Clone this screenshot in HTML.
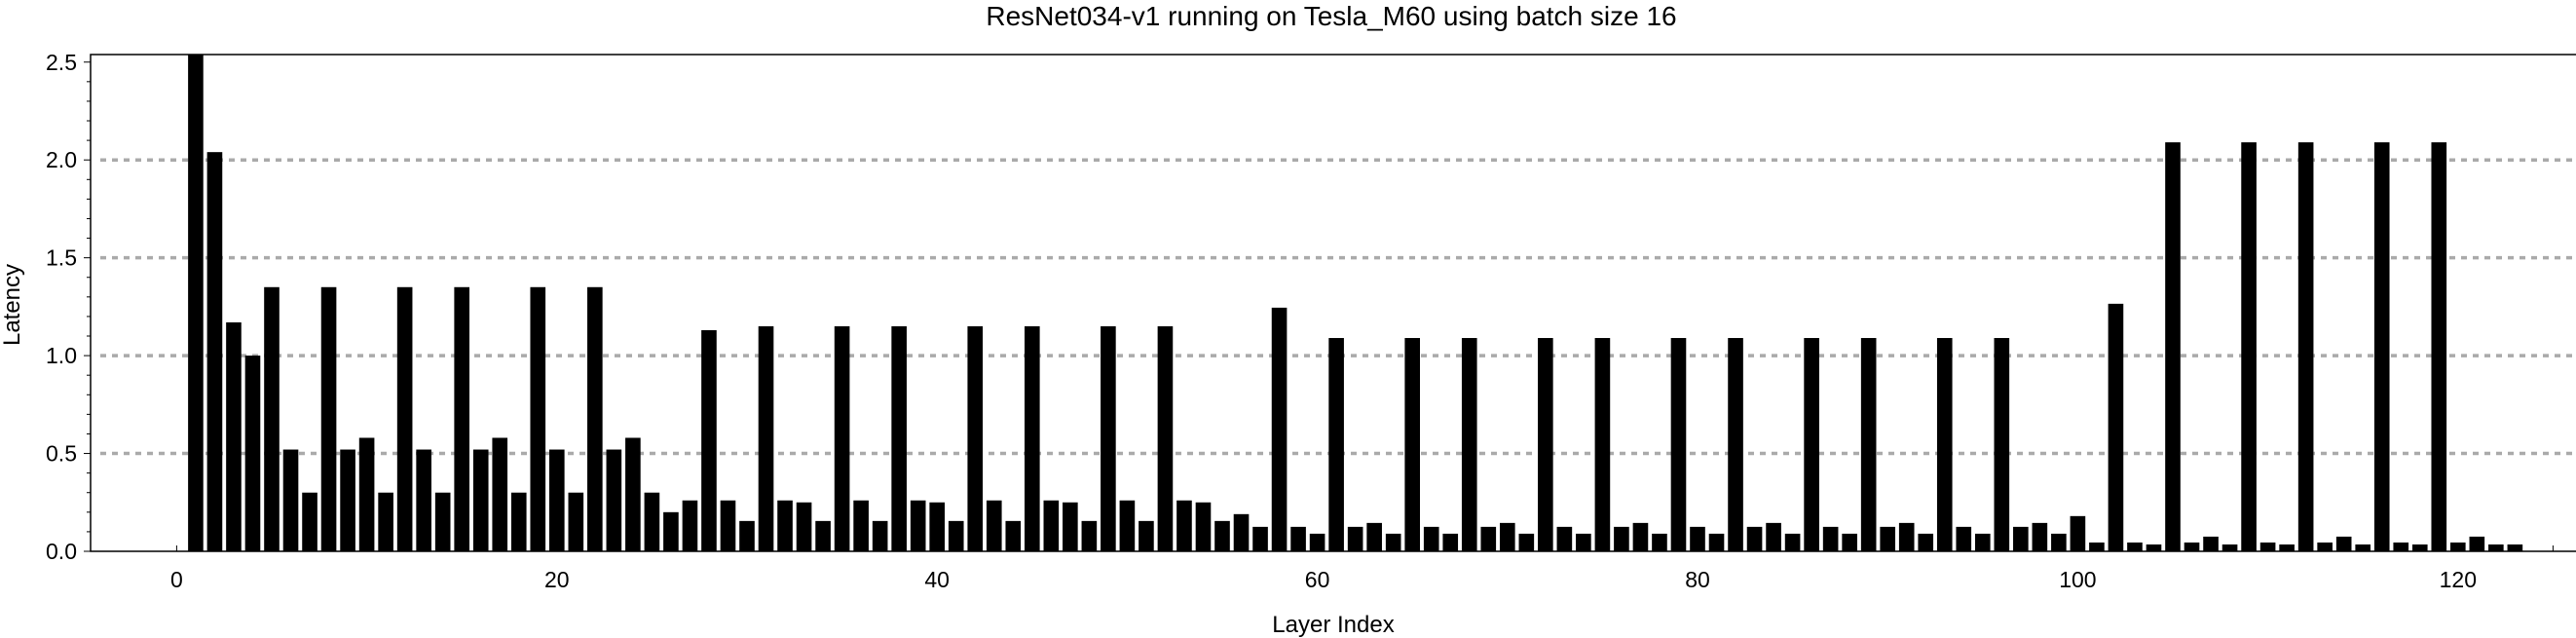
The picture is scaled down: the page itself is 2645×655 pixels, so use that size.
<!DOCTYPE html>
<html><head><meta charset="utf-8"><style>
body{margin:0;background:#fff}
svg{display:block}
text{font-family:"Liberation Sans",sans-serif;fill:#000}
</style></head><body>
<svg id="chart" width="2645" height="655" viewBox="0 0 2645 655" xmlns="http://www.w3.org/2000/svg">
<text x="1367" y="26" font-size="28" text-anchor="middle">ResNet034-v1 running on Tesla_M60 using batch size 16</text>
<text transform="translate(20,313) rotate(-90)" font-size="24" text-anchor="middle">Latency</text>
<text x="1369" y="649" font-size="24" text-anchor="middle">Layer Index</text>
<g id="grid"></g><g id="bars"></g><g id="axes"></g>
</svg>
<script>
const latency = [2.6,2.04,1.17,1.00,1.35,0.52,0.30,1.35,0.52,0.58,0.30,1.35,0.52,0.30,1.35,0.52,0.58,0.30,1.35,0.52,
0.30,1.35,0.52,0.58,0.30,0.20,0.26,1.13,0.26,0.155,1.15,0.26,0.25,0.155,1.15,0.26,0.155,1.15,0.26,0.25,
0.155,1.15,0.26,0.155,1.15,0.26,0.25,0.155,1.15,0.26,0.155,1.15,0.26,0.25,0.155,0.19,0.125,1.245,0.125,0.09,
1.09,0.125,0.145,0.09,1.09,0.125,0.09,1.09,0.125,0.145,0.09,1.09,0.125,0.09,1.09,0.125,0.145,0.09,1.09,0.125,
0.09,1.09,0.125,0.145,0.09,1.09,0.125,0.09,1.09,0.125,0.145,0.09,1.09,0.125,0.09,1.09,0.125,0.145,0.09,0.18,
0.045,1.265,0.045,0.035,2.09,0.045,0.075,0.035,2.09,0.045,0.035,2.09,0.045,0.075,0.035,2.09,0.045,0.035,2.09,0.045,
0.075,0.035,0.035];
const yTicks = [0,0.5,1.0,1.5,2.0,2.5];
const yTickLabels = ["0.0","0.5","1.0","1.5","2.0","2.5"];
const xTicks = [0,20,40,60,80,100,120];
const gridValues = [0.5,1.0,1.5,2.0];

const NS="http://www.w3.org/2000/svg";
const X0=181.4, XU=19.52, Y0=566, YU=200.9, LEFT=93, TOP=56, RIGHT=2645, YMAX=2.54;
const xs=v=>X0+v*XU, ys=v=>Y0-Math.min(v,YMAX)*YU;
function mk(tag,attrs,parent){const e=document.createElementNS(NS,tag);for(const k in attrs)e.setAttribute(k,attrs[k]);parent.appendChild(e);return e;}
const grid=document.getElementById('grid'),bars=document.getElementById('bars'),axes=document.getElementById('axes');
gridValues.forEach(v=>{
  const l=mk('line',{x1:LEFT+10,x2:RIGHT,y1:ys(v),y2:ys(v),stroke:'#aaa','stroke-width':3.5,'stroke-dasharray':'6 6'},grid);
  
  
});
latency.forEach((v,i)=>{
  const w=XU*0.8;
  const r=mk('rect',{x:xs(i+1)-w/2,y:ys(v),width:w,height:Y0-ys(v),fill:'#000'},bars);
  
  
});
const ax=mk('path',{d:`M${RIGHT},${TOP}H${LEFT}V${Y0}H${RIGHT}`,fill:'none',stroke:'#000','stroke-width':1.5},axes);


for(let k=0;k<=25;k++){
  const v=k/10,maj=k%5===0;
  mk('line',{x1:LEFT-(maj?7:4),x2:LEFT,y1:ys(v),y2:ys(v),stroke:'#000','stroke-width':1},axes);
}
yTicks.forEach((v,i)=>{
  const t=mk('text',{x:79,y:ys(v)+8,'font-size':23,'text-anchor':'end'},axes);
  t.textContent=yTickLabels[i];
  
  
});
xTicks.forEach(v=>{
  mk('line',{x1:xs(v),x2:xs(v),y1:Y0,y2:Y0-6,stroke:'#000','stroke-width':1},axes);
  const t=mk('text',{x:xs(v),y:603,'font-size':23,'text-anchor':'middle'},axes);
  t.textContent=String(v);
  
  
});
mk('line',{x1:xs(125),x2:xs(125),y1:Y0,y2:Y0-6,stroke:'#000','stroke-width':1},axes);
</script>
</body></html>
